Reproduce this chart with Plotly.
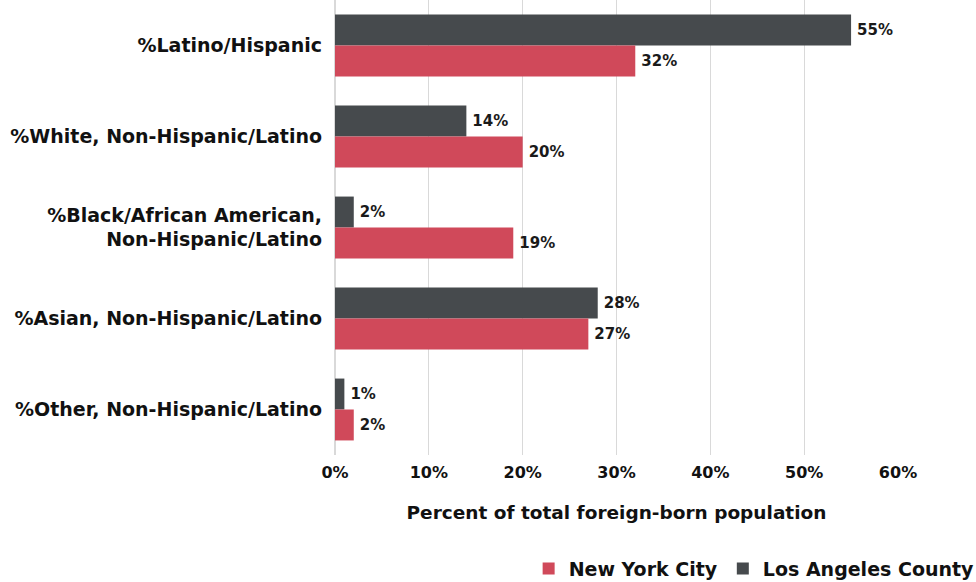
import plotly.graph_objects as go

categories = [
    "%Latino/Hispanic",
    "%White, Non-Hispanic/Latino",
    "%Black/African American,<br>Non-Hispanic/Latino",
    "%Asian, Non-Hispanic/Latino",
    "%Other, Non-Hispanic/Latino",
]
la_county = [55, 14, 2, 28, 1]
nyc = [32, 20, 19, 27, 2]
x_ticks = [0, 10, 20, 30, 40, 50, 60]
x_tick_labels = ["0%", "10%", "20%", "30%", "40%", "50%", "60%"]

FONT = "DejaVu Sans"
RED = "#d0495a"
DARK = "#464a4d"


def pct_labels(values):
    # a leading thin space keeps the label clear of the bar end
    return [f"\u2009{v}%" for v in values]


fig = go.Figure()
fig.add_trace(go.Bar(
    y=categories, x=la_county, orientation="h", name="Los Angeles County",
    marker=dict(color=DARK, line=dict(width=0)),
    text=pct_labels(la_county), texttemplate="%{text}",
    textposition="outside", cliponaxis=False,
    textfont=dict(size=15, color="#1a1a1a", family=FONT, weight="bold"),
))
fig.add_trace(go.Bar(
    y=categories, x=nyc, orientation="h", name="New York City",
    marker=dict(color=RED, line=dict(width=0)),
    text=pct_labels(nyc), texttemplate="%{text}",
    textposition="outside", cliponaxis=False,
    textfont=dict(size=15, color="#1a1a1a", family=FONT, weight="bold"),
))

fig.update_layout(
    width=976, height=582,
    margin=dict(l=335, r=78, t=0, b=127, autoexpand=False),
    paper_bgcolor="white", plot_bgcolor="white",
    barmode="group", bargap=0.32, bargroupgap=0,
    font=dict(family=FONT, size=19, color="#111111", weight="bold"),
    xaxis=dict(
        range=[0, 60], tickvals=x_ticks, ticktext=x_tick_labels,
        showgrid=True, gridcolor="#d9d9d9", gridwidth=1,
        zeroline=True, zerolinecolor="#d9d9d9",
        showline=False, ticks="", automargin=False,
        ticklabelstandoff=6, tickfont=dict(size=16),
        title=dict(text="Percent of total foreign-born population",
                   font=dict(size=18.5), standoff=25),
    ),
    yaxis=dict(
        autorange="reversed", showgrid=False, ticks="", automargin=False,
        ticklabelstandoff=12, tickfont=dict(size=19),
    ),
    legend=dict(
        orientation="h", x=1.145, xanchor="right", y=-0.25, yanchor="middle",
        traceorder="reversed", font=dict(size=19),
    ),
)

fig.write_html("out.html")
